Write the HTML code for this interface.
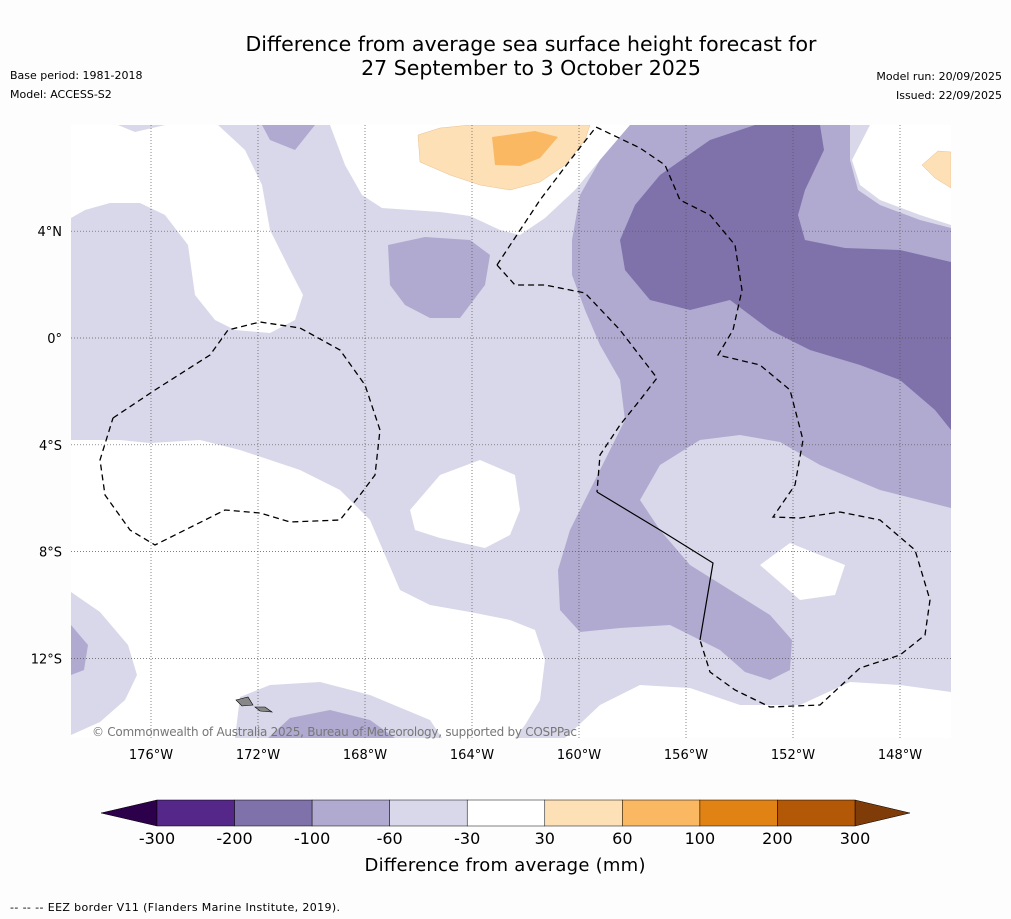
<!DOCTYPE html>
<html><head><meta charset="utf-8"><style>
body{margin:0;background:#fdfdfd;font-family:"DejaVu Sans","Liberation Sans",sans-serif;}
#wrap{position:relative;width:1011px;height:919px;overflow:hidden;background:#fdfdfd}
.t{position:absolute;color:#000;white-space:nowrap}
</style></head><body>
<div id="wrap">
<div class="t" style="left:0;width:1062px;top:32px;text-align:center;font-size:20.5px;line-height:24px">Difference from average sea surface height forecast for<br>27 September to 3 October 2025</div>
<div class="t" style="left:10px;top:69px;font-size:11px">Base period: 1981-2018</div>
<div class="t" style="left:10px;top:88px;font-size:11px">Model: ACCESS-S2</div>
<div class="t" style="right:9px;top:70px;font-size:11px">Model run: 20/09/2025</div>
<div class="t" style="right:9px;top:89px;font-size:11px">Issued: 22/09/2025</div>
<svg id="map" width="1011" height="919" style="position:absolute;left:0;top:0">
<defs><clipPath id="mc"><rect x="71" y="125" width="880" height="613"/></clipPath></defs>
<g clip-path="url(#mc)">
<rect x="71" y="125" width="880" height="613" fill="#d8d8ea"/>
<g fill="#ffffff">
<polygon points="71,125 118,125 135,132 165,125 218,125 245,150 262,185 270,230 290,270 303,295 295,320 270,333 235,330 215,320 195,295 188,245 165,215 140,203 110,203 85,210 71,218"/>
<polygon points="330,125 345,165 362,195 382,208 440,212 470,216 500,230 520,235 545,218 575,190 600,160 630,125"/>
<polygon points="870,125 951,125 951,225 920,215 880,200 860,185 852,160"/>
<polygon points="71,440 120,440 150,443 200,440 240,450 300,470 340,490 370,520 385,555 400,590 430,605 470,612 510,620 535,630 545,660 540,700 525,725 515,738 442,738 430,720 370,695 320,682 270,685 240,697 235,738 71,738"/>
<polygon points="410,510 440,475 480,460 515,475 520,510 510,535 485,548 440,538 415,530"/>
<polygon points="760,565 790,543 845,565 835,595 800,600"/>
<polygon points="565,738 600,705 640,685 690,688 740,705 800,705 850,682 900,685 951,692 951,738"/>
</g>
<polygon fill="#d8d8ea" points="71,592 100,612 128,645 137,675 125,700 100,722 71,735"/>
<g fill="#b0aad0">
<polygon points="630,125 755,125 820,125 850,125 850,160 858,190 880,205 920,220 951,228 951,508 880,490 820,465 780,442 740,435 700,440 660,465 640,500 660,530 690,565 730,590 770,615 792,640 790,670 770,680 745,672 720,650 670,625 620,628 580,632 560,610 558,570 570,530 590,490 610,450 625,420 620,380 600,345 585,310 572,275 572,240 580,195 600,160"/>
<polygon points="388,245 425,237 470,240 490,255 485,285 460,318 430,318 405,305 390,285"/>
<polygon points="262,125 315,125 295,150 270,140"/>
<polygon points="71,625 88,645 84,670 71,675"/>
<polygon points="268,738 290,718 330,710 370,720 395,738"/>
</g>
<polygon fill="#7f72aa" points="755,125 820,125 824,150 805,190 798,215 805,240 845,248 900,250 951,262 951,430 935,410 900,380 860,365 810,350 770,330 730,300 690,310 650,300 625,270 620,240 635,205 660,175 710,140"/>
<polygon fill="#fde0b5" stroke="#e8c090" stroke-width="0.5" points="418,135 440,128 470,125 590,125 585,140 565,165 540,182 510,190 480,185 450,175 420,162"/>
<polygon fill="#fbb862" points="492,137 535,131 558,137 540,158 520,166 495,165"/>
<polygon fill="#fde0b5" stroke="#e8c090" stroke-width="0.5" points="922,165 938,151 951,152 951,188 935,178"/>
<g id="grid" stroke="#555" stroke-width="0.7" stroke-dasharray="1,2"></g>
<g fill="none" stroke="#000" stroke-width="1.3" stroke-dasharray="6,4">
<polyline points="113,418 155,390 210,355 228,330 260,322 300,328 340,350 365,385 380,430 375,475 360,495 340,520 290,522 260,513 225,510 155,545 130,530 105,495 100,460 113,418"/>
<polyline points="497,265 540,200 568,163 596,127 640,148 665,165 680,200 710,215 735,245 742,290 733,330 718,355 760,365 790,390 803,440 795,485 773,517 800,518 840,512 880,520 915,550 930,600 925,635 900,655 860,668 820,705 770,707 735,690 710,672 700,640"/>
<polyline points="497,265 515,285 545,285 585,293 620,330 657,378 640,400 620,425 600,455 597,492"/>
</g>
<polyline fill="none" stroke="#000" stroke-width="1.2" points="597,492 660,530 713,563 700,640"/>
<g fill="#888" stroke="#000" stroke-width="0.6">
<polygon points="236,700 248,697 253,705 242,706"/><polygon points="255,707 265,707 272,712 260,711"/>
</g>
</g>
<text x="92" y="736" font-size="12" fill="#777" font-family="DejaVu Sans, sans-serif" textLength="485">© Commonwealth of Australia 2025, Bureau of Meteorology, supported by COSPPac</text>
<g id="lab" font-size="13" font-family="DejaVu Sans, sans-serif" fill="#000"></g>
<g id="cbar"></g>
<text x="505" y="871" text-anchor="middle" font-size="18" font-family="DejaVu Sans, sans-serif" textLength="281">Difference from average (mm)</text>
<text x="10" y="911" font-size="11" font-family="DejaVu Sans, sans-serif" textLength="330">--  --  -- EEZ border V11 (Flanders Marine Institute, 2019).</text>
</svg>
</div>
<script>
const lonTicks=[-176,-172,-168,-164,-160,-156,-152,-148];
const latTicks=[4,0,-4,-8,-12];
const cbLevels=[-300,-200,-100,-60,-30,30,60,100,200,300];
const cbColors=["#542788","#7f72aa","#b0aad0","#d8d8ea","#ffffff","#fde0b5","#fbb862","#e08214","#b35806"];
const NS="http://www.w3.org/2000/svg";
const xLon=l=>151+(l+176)*26.75;
const yLat=l=>338-l*26.7;
function mk(t,a,p){const e=document.createElementNS(NS,t);for(const k in a)e.setAttribute(k,a[k]);p.appendChild(e);return e;}
const grid=document.getElementById('grid'),lab=document.getElementById('lab');
lonTicks.forEach(l=>{const x=xLon(l);
const ln=mk('line',{x1:x,x2:x,y1:125,y2:738},grid);

const t=mk('text',{x:x,y:759,'text-anchor':'middle'},lab);t.textContent=Math.abs(l)+'°W';
});
latTicks.forEach(l=>{const y=yLat(l);
const ln=mk('line',{x1:71,x2:951,y1:y,y2:y},grid);

const t=mk('text',{x:62,y:y+5,'text-anchor':'end'},lab);t.textContent=l===0?'0°':Math.abs(l)+'°'+(l>0?'N':'S');
});
const cb=document.getElementById('cbar');
const x0=157,x1=855,n=cbColors.length,w=(x1-x0)/n,y0=800,h=26;
const lt=mk('polygon',{points:`101,813 ${x0},${y0} ${x0},${y0+h}`,fill:'#2d004b',stroke:'#000','stroke-width':0.5},cb);

const rt=mk('polygon',{points:`910,813 ${x1},${y0} ${x1},${y0+h}`,fill:'#7f3b08',stroke:'#000','stroke-width':0.5},cb);

cbColors.forEach((c,i)=>{const r=mk('rect',{x:x0+i*w,y:y0,width:w,height:h,fill:c,stroke:'#000','stroke-width':0.5},cb);
});
cbLevels.forEach((v,i)=>{const t=mk('text',{x:x0+i*w,y:844,'text-anchor':'middle','font-size':16,'font-family':'DejaVu Sans, sans-serif'},cb);t.textContent=v;
});
</script>
</body></html>
